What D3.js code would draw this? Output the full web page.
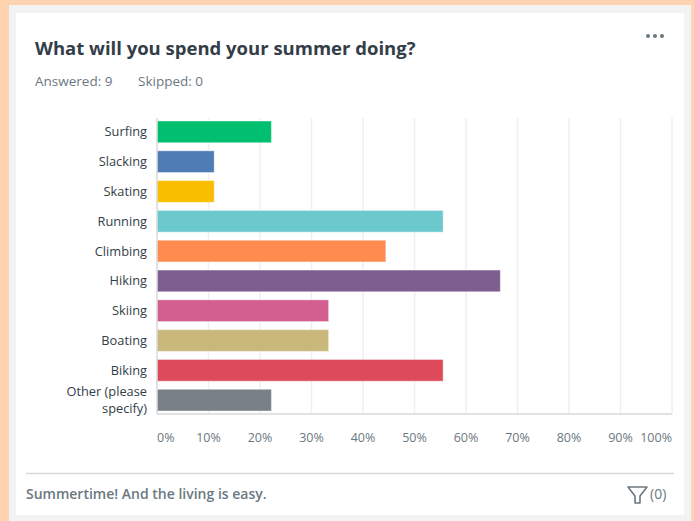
<!DOCTYPE html>
<html>
<head>
<meta charset="utf-8">
<script src="https://cdn.jsdelivr.net/npm/d3@7"></script>
<style>
  body { margin: 0; background: #fdd3b0; }
  svg { display: block; font-family: "Open Sans", sans-serif; }
</style>
</head>
<body>
<svg id="canvas" width="694" height="521"></svg>
<script>
'use strict';

/* survey answers: 9 respondents, percentage per choice */
const choices = ['Surfing', 'Slacking', 'Skating', 'Running', 'Climbing',
  'Hiking', 'Skiing', 'Boating', 'Biking', 'Other (please specify)'];
const percents = [22.22, 11.11, 11.11, 55.56, 44.44, 66.67, 33.33, 33.33, 55.56, 22.22];
const barColors = ['#00bf6f', '#507cb6', '#f9be00', '#6bc8cd', '#ff8b4f',
  '#7d5e8f', '#d25f90', '#c9b87a', '#dd4b5b', '#768086'];
const xTicks = [0, 10, 20, 30, 40, 50, 60, 70, 80, 90, 100];

const svg = d3.select('#canvas');

/* card background: gray frame + white panel */
svg.append('rect').attr('x', 9).attr('y', 5).attr('width', 682).attr('height', 520)
  .attr('fill', '#f2f4f4');
svg.append('rect').attr('x', 16).attr('y', 13).attr('width', 668).attr('height', 502)
  .attr('fill', '#ffffff');

/* header */
svg.append('text')
  .attr('x', 35).attr('y', 55)
  .attr('fill', '#333e48')
  .style('font-size', '18.5px').style('font-weight', 700)
  .text('What will you spend your summer doing?');

svg.append('text')
  .attr('x', 35).attr('y', 86)
  .attr('fill', '#6b787f')
  .style('font-size', '13.5px')
  .text('Answered: 9');
svg.append('text')
  .attr('x', 138).attr('y', 86)
  .attr('fill', '#6b787f')
  .style('font-size', '13.5px')
  .text('Skipped: 0');

/* "more" dots */
svg.append('g').selectAll('circle').data([0, 1, 2]).enter().append('circle')
  .attr('cx', d => 648 + d * 7).attr('cy', 36).attr('r', 2)
  .attr('fill', '#6b787f');

/* chart area */
const margin = {top: 118, left: 157, right: 672, bottom: 414};
const x = d3.scaleLinear().domain([0, 100]).range([margin.left, margin.right]);
const y = d3.scaleBand().domain(choices).range([margin.top, margin.bottom])
  .paddingInner(0.27).paddingOuter(0.1);

/* gridlines */
svg.append('g').selectAll('line').data(xTicks.slice(1)).enter().append('line')
  .attr('x1', d => x(d)).attr('x2', d => x(d))
  .attr('y1', margin.top).attr('y2', margin.bottom)
  .attr('stroke', '#efefef').attr('stroke-width', 1.5);

/* bars */
svg.append('g').selectAll('rect').data(choices).enter().append('rect')
  .attr('x', margin.left)
  .attr('y', d => y(d))
  .attr('width', (d, i) => x(percents[i]) - margin.left)
  .attr('height', y.bandwidth())
  .attr('fill', (d, i) => barColors[i])
  .attr('stroke', '#ffffff').attr('stroke-opacity', 0.45).attr('stroke-width', 1);

/* axis lines */
svg.append('line')
  .attr('x1', margin.left).attr('x2', margin.left)
  .attr('y1', margin.top).attr('y2', margin.bottom)
  .attr('stroke', '#d7d9da').attr('stroke-width', 1.5);
svg.append('line')
  .attr('x1', margin.left).attr('x2', margin.right)
  .attr('y1', margin.bottom).attr('y2', margin.bottom)
  .attr('stroke', '#d7d9da').attr('stroke-width', 1.5);

/* x tick labels */
svg.append('g').selectAll('text').data(xTicks).enter().append('text')
  .attr('x', d => x(d)).attr('y', 442)
  .attr('text-anchor', d => d === 0 ? 'start' : (d === 100 ? 'end' : 'middle'))
  .attr('fill', '#6b787f')
  .style('font-size', '12.5px')
  .text(d => d + '%');

/* category labels, long ones wrapped on two lines */
const labels = svg.append('g').selectAll('text').data(choices).enter().append('text')
  .attr('x', 147)
  .attr('y', d => y(d) + y.bandwidth() / 2)
  .attr('text-anchor', 'end')
  .attr('fill', '#333e48')
  .style('font-size', '12.8px');
labels.each(function(d){
  const t = d3.select(this);
  const lines = d.startsWith('Other') ? ['Other (please', 'specify)'] : [d];
  lines.forEach((l, i) => {
    t.append('tspan')
      .attr('x', 147)
      .attr('dy', i === 0 ? (lines.length === 1 ? '0.35em' : '-0.34em') : '1.36em')
      .text(l);
  });
});

/* footer */
svg.append('line')
  .attr('x1', 26).attr('x2', 674).attr('y1', 473.5).attr('y2', 473.5)
  .attr('stroke', '#d7d9da').attr('stroke-width', 1.5);
svg.append('text')
  .attr('x', 26).attr('y', 499)
  .attr('fill', '#6b787f')
  .style('font-size', '14px').style('font-weight', 600)
  .text('Summertime! And the living is easy.');

/* filter icon + count */
svg.append('path')
  .attr('d', 'M628,487 L647,487 L640,496 L640,503 L635,503 L635,496 Z')
  .attr('fill', 'none').attr('stroke', '#6b787f').attr('stroke-width', 1.6)
  .attr('stroke-linejoin', 'round');
svg.append('text')
  .attr('x', 650).attr('y', 499)
  .attr('fill', '#6b787f')
  .style('font-size', '14px')
  .text('(0)');
</script>
</body>
</html>
